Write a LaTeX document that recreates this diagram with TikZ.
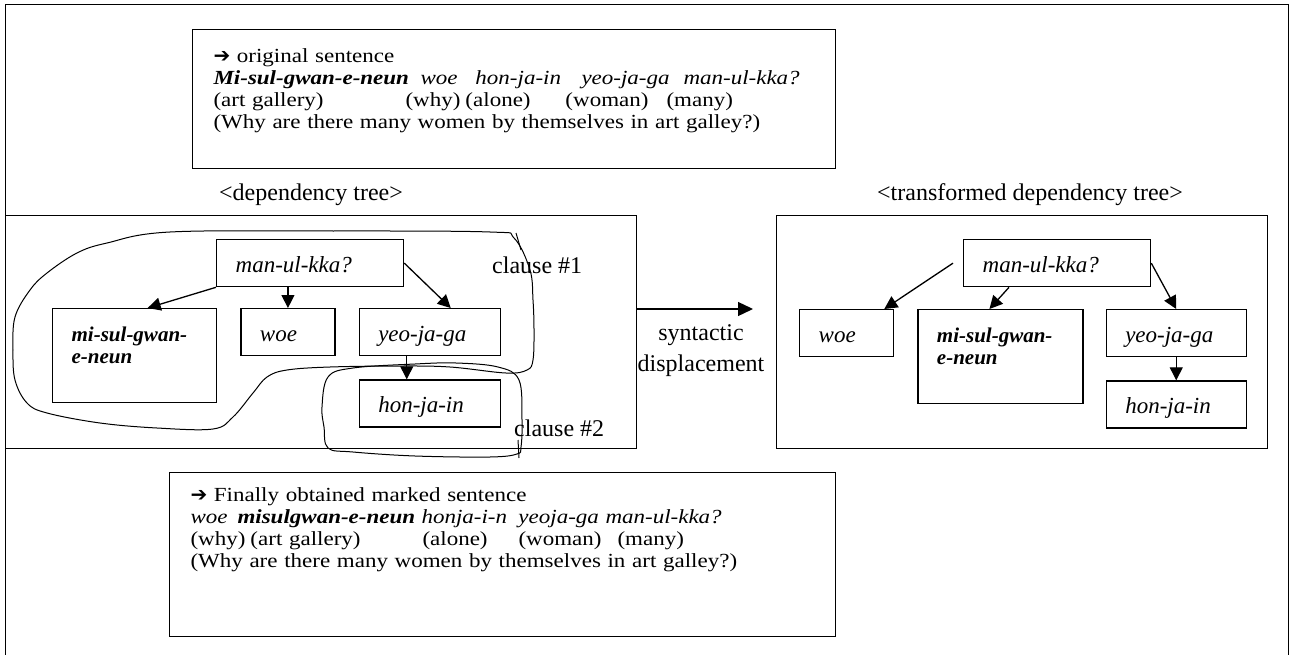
\documentclass[tikz,border=0pt]{standalone}
\usepackage{fontspec}
\setmainfont{Liberation Serif}
\newfontfamily\sentfont{Liberation Serif}[FakeStretch=1.15]
\newfontfamily\arrowfont{DejaVu Sans}
\usetikzlibrary{arrows.meta,positioning}

\newcommand{\sentsize}{\fontsize{20}{22}\selectfont}
\newcommand{\treesize}{\fontsize{23}{26}\selectfont}
\newcommand{\boldtreesize}{\fontsize{21}{22}\selectfont}
\newcommand{\labelsize}{\fontsize{24}{31}\selectfont}
\newcommand{\wordat}[2]{\makebox[0pt][l]{\hspace*{#1pt}#2}}
\newcommand{\bigarrow}{{\arrowfont\char"2794}}

\begin{document}
\begin{tikzpicture}[x=1pt, y=-1pt,
    node distance=23pt,
    frame/.style={line width=1pt},
    sentbox/.style={draw, line width=1pt, anchor=north west, align=left, inner xsep=21pt, inner ysep=14pt, font=\sentfont\sentsize},
    treebox/.style={draw, line width=1.3pt, align=left, inner xsep=19pt, inner ysep=12pt, text height=21pt, text depth=2pt, font=\treesize\itshape},
    boldtree/.style={font=\boldtreesize\bfseries\itshape, text depth=49pt},
    panel/.style={draw, line width=1.3pt, anchor=north west, inner sep=0pt},
    caption/.style={font=\labelsize, inner sep=0pt},
    arrow/.style={-{Triangle[length=13pt,width=13pt]}, line width=1.3pt},
    clause/.style={line width=1pt, line join=round}
]
    \useasboundingbox (0,0) rectangle (1290,655);
    \draw[frame] (5,662) -- (5,5) -- (1288,5) -- (1288,662);

    \node[sentbox, text width=601pt, text height=19.4pt, text depth=91.6pt] (origbox) at (192,29) {%
        \bigarrow{} original sentence\\
        \wordat{0}{\textbf{\textit{Mi-sul-gwan-e-neun}}}\wordat{207}{\textit{woe}}\wordat{262}{\textit{hon-ja-in}}\wordat{368}{\textit{yeo-ja-ga}}\wordat{470}{\textit{man-ul-kka?}}\\
        \wordat{0}{(art gallery)}\wordat{192}{(why)}\wordat{252}{(alone)}\wordat{352}{(woman)}\wordat{453}{(many)}\\
        (Why are there many women by themselves in art galley?)};

    \node[caption] (dlabel) at (311,195) {\textless dependency tree\textgreater};
    \node[caption] (tlabel) at (1030,195) {\textless transformed dependency tree\textgreater};

    \node[panel, minimum width=631pt, minimum height=233pt] (dtree) at (5,215) {};
    \node[panel, minimum width=491pt, minimum height=233pt] (ttree) at (776,215) {};

    \node[treebox, text width=149pt, anchor=north west] (lroot) at (216,239) {man-ul-kka?};
    \node[treebox, boldtree, text width=126pt, anchor=north west] (lmisul) at (52,308) {mi-sul-gwan-\\e-neun};
    \node[treebox, text width=56pt, right=of lmisul.north east, anchor=north west] (lwoe) {woe};
    \node[treebox, text width=103pt, right=of lwoe.north east, anchor=north west] (lyeoja) {yeo-ja-ga};
    \node[treebox, text width=103pt, below=of lyeoja] (lhonja) {hon-ja-in};

    \draw[arrow] (lroot.south west) -- ([xshift=13pt]lmisul.north);
    \draw[arrow] (lwoe.north |- lroot.south) -- (lwoe.north);
    \draw[arrow] (lroot.east) -- ([xshift=21pt]lyeoja.north);
    \draw[arrow] ([xshift=-23pt]lyeoja.south) -- ([xshift=-23pt]lhonja.north);

    \node[treebox, text width=149pt, anchor=north west] (rroot) at (963,239) {man-ul-kka?};
    \node[treebox, text width=56pt, anchor=north west] (rwoe) at (799,309) {woe};
    \node[treebox, boldtree, text width=127pt, right=of rwoe.north east, anchor=north west] (rmisul) {mi-sul-gwan-\\e-neun};
    \node[treebox, text width=102pt, right=22pt of rmisul.north east, anchor=north west] (ryeoja) {yeo-ja-ga};
    \node[treebox, text width=102pt, below=of ryeoja] (rhonja) {hon-ja-in};

    \draw[arrow] ([xshift=-10pt]rroot.west) -- ([xshift=-10pt]rwoe.north east);
    \draw[arrow] ([xshift=46pt]rroot.south west) -- ([xshift=-11pt]rmisul.north);
    \draw[arrow] (rroot.east) -- (ryeoja.north);
    \draw[arrow] (ryeoja) -- (rhonja);

    \coordinate (disptip) at (753,309);
    \draw[arrow, -{Triangle[length=15pt,width=14pt]}] (dtree.east |- disptip) -- (disptip);
    \node[caption, align=center] (displabel) at (701,351) {syntactic\\displacement};

    \draw[clause] plot[smooth cycle, tension=0.6] coordinates {
        (170,232) (333,231) (490,232) (514,238) (530,270) (533,300) (534,330) (533,360)
        (527,370) (506,373) (450,367) (400,366) (330,367) (287,370) (267,377) (253,393)
        (233,417) (213,429) (157,428) (100,423) (47,413) (27,403) (15,380) (13,350)
        (15,317) (30,290) (47,273) (77,253) (107,243)};
    \draw[clause] (516,233) -- (521,250);
    \draw[clause] plot[smooth cycle, tension=0.6] coordinates {
        (328,377) (353,368) (415,364) (456,363) (498,367) (519,380) (522,420) (521,447)
        (517,454) (490,457) (415,456) (353,452) (328,448) (324,427) (322,407)};
    \draw[clause] (518,440) -- (519,458);
    \node[caption, anchor=west] (clauseA) at (492,265) {clause \#1};
    \node[caption, anchor=west] (clauseB) at (514,428) {clause \#2};

    \node[sentbox, text width=624pt, text height=15.4pt, text depth=120.6pt] (finalbox) at (169,472) {%
        \bigarrow{} Finally obtained marked sentence\\
        \wordat{0}{\textit{woe}}\wordat{47}{\textbf{\textit{misulgwan-e-neun}}}\wordat{231}{\textit{honja-i-n}}\wordat{328}{\textit{yeoja-ga}}\wordat{415}{\textit{man-ul-kka?}}\\
        \wordat{0}{(why)}\wordat{60}{(art gallery)}\wordat{232}{(alone)}\wordat{328}{(woman)}\wordat{427}{(many)}\\
        (Why are there many women by themselves in art galley?)};
\end{tikzpicture}
\end{document}
